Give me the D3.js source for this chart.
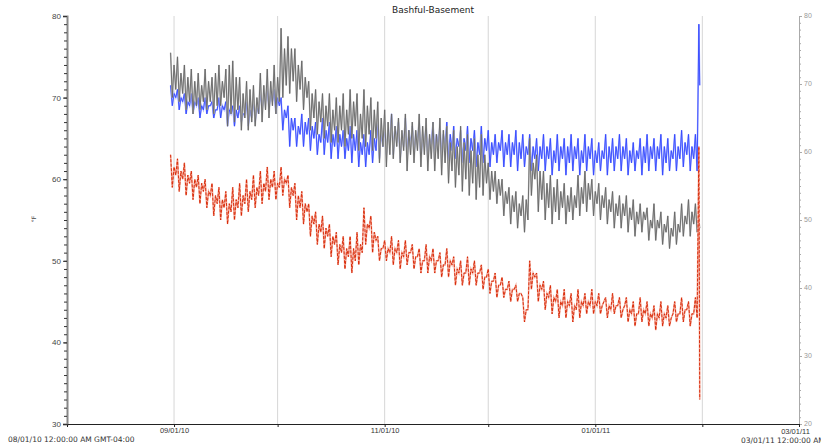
<!DOCTYPE html>
<html>
<head>
<meta charset="utf-8">
<script src="https://cdn.jsdelivr.net/npm/d3@7"></script>
<style>
  body { margin: 0; background: #fff; }
  svg { display: block; font-family: "DejaVu Sans", sans-serif; }
</style>
</head>
<body>
<div id="chart"></div>
<script>
// one high (midnight) and one low (noon) reading per day, starting 08/31/10
let firstDay = Date.UTC(2010, 7, 31);

let grayHi = [75.5, 74, 75, 73, 74, 72.5, 73.5, 72, 73, 71.5,
    73.5, 72, 72.5, 73, 74, 72, 73.5, 74, 74.5, 72.5,
    72.5, 70.5, 72, 71, 71.5, 70, 73, 71.5, 73.5, 72,
    74, 72.5, 78.5, 76, 77.5, 76, 76, 74, 74.5, 72.5,
    72, 70.5, 71, 69.5, 70.5, 69, 70.5, 68.5, 70, 69,
    70.5, 68.5, 71, 69.5, 70.5, 68, 71, 69, 70, 68.5,
    69.5, 67.5, 68.5, 67, 68, 66.5, 67.5, 66, 68, 66,
    67, 66, 68, 66.5, 67.5, 65.5, 67, 65.5, 67.5, 66,
    66.5, 64.5, 66, 64, 66.5, 64.5, 65.5, 63.5, 65, 63,
    65.5, 63, 62, 61, 61, 60, 60, 58.5, 59, 58,
    58.5, 57, 58, 57.5, 65, 62, 63, 61, 61, 59.5,
    60.5, 59, 60, 58.5, 59.5, 58, 59, 58, 60.5, 59,
    61, 59.5, 60, 58.5, 59.5, 58, 59, 57.5, 58.5, 57,
    58, 57, 58, 56.5, 57.5, 56, 57, 56, 56.5, 55,
    57, 55, 56, 54.5, 55.5, 54, 56, 54.5, 57, 55.5,
    57.5, 56, 57];
let grayLo = [70, 71, 69.5, 70.5, 68.5, 69.5, 68, 69, 68.5, 69.5,
    68.5, 69.5, 68, 69, 69, 70, 66.5, 68, 67, 68.5,
    66, 67.5, 66, 67, 66.5, 68, 67, 68.5, 67.5, 69,
    68, 69.5, 70, 71.5, 70.5, 72, 69.5, 71, 68.5, 70,
    66, 67.5, 65.5, 67, 65, 66.5, 64.5, 66, 64.5, 66,
    64, 65.5, 65, 66.5, 63.5, 65, 64, 65.5, 63.5, 65,
    62, 64, 61.5, 63, 62.5, 64, 62, 63.5, 61, 63,
    62, 63.5, 61.5, 63, 61, 62.5, 61, 62.5, 60.5, 62,
    59.5, 61, 59, 60.5, 58.5, 60, 58, 59.5, 57.5, 59,
    58, 59.5, 57.5, 58.5, 57, 58, 55.5, 57, 54.5, 56,
    54, 55.5, 53.5, 55, 58, 60, 56, 57.5, 55, 56.5,
    54.5, 56, 55, 56.5, 54.5, 56, 55, 56.5, 55.5, 57,
    56, 57.5, 55.5, 57, 55, 56.5, 54.5, 56, 54, 55.5,
    54, 55.5, 53.5, 55, 53, 54.5, 53.5, 55, 52.5, 54,
    52.5, 54, 52, 53.5, 51.5, 53, 52, 53.5, 53, 54.5,
    53, 54.5, 53.5];

let blueHi = [71.5, 70.5, 71, 70, 70.5, 69.5, 70.5, 69.5, 70, 69,
    70, 69, 69.5, 68.5, 70, 69, 69.5, 68.5, 69, 68.5,
    69, 68, 69.5, 68.5, 70, 69, 71, 70, 71.5, 70.5,
    71, 70, 70, 68.5, 69, 67.5, 67.5, 66.5, 68, 67,
    67.5, 66.5, 67, 65.5, 67.5, 66, 67, 65.5, 66.5, 65.5,
    66, 65, 66.5, 65.5, 66, 64.5, 65.5, 64.5, 66, 65,
    67.5, 66, 67, 65.5, 68, 66.5, 67, 65.5, 67.5, 66,
    66.5, 65.5, 67, 65.5, 66.5, 65, 67, 65.5, 66.5, 65.5,
    67, 65.5, 66.5, 65, 66, 65, 66.5, 65, 66, 64.5,
    66.5, 65, 66, 64.5, 65.5, 64.5, 66, 64.5, 65.5, 64.5,
    66, 64.5, 65.5, 64, 65.5, 64, 65, 64, 65.5, 64,
    65, 63.5, 65.5, 64, 65, 64, 65.5, 64, 65, 63.5,
    65.5, 64, 65, 63.5, 64.5, 63.5, 65.5, 64, 65, 64,
    65.5, 64, 65, 63.5, 64.5, 63.5, 65, 64, 65.5, 64,
    65, 64, 65.5, 64, 65, 63.5, 65.5, 64, 66, 64.5,
    65.5, 64, 65.5];
let blueLo = [69, 70, 68.5, 69.5, 68, 69, 68, 69, 67.5, 68.5,
    68, 69, 67.5, 68.5, 67.5, 68.5, 66.5, 68, 66.5, 67.5,
    67, 68, 66.5, 67.5, 67, 68, 68.5, 69.5, 68.5, 69.5,
    68, 69, 66, 67.5, 64, 66, 64, 65.5, 64, 65.5,
    63.5, 65, 63, 64.5, 63, 64.5, 62.5, 64, 62.5, 64,
    62.5, 63.5, 62, 63.5, 61.5, 63, 61.5, 63, 62, 63.5,
    62.5, 64, 63, 64.5, 63, 64.5, 62.5, 64, 62.5, 64,
    63, 64.5, 62.5, 64, 62.5, 64, 62.5, 64, 62.5, 64,
    62, 63.5, 62.5, 64, 62, 63.5, 62, 63.5, 61.5, 63,
    62, 63.5, 61.5, 63, 62, 63.5, 61.5, 63, 61.5, 63,
    61, 62.5, 61.5, 63, 61, 62.5, 61, 62.5, 61, 62.5,
    60.5, 62, 61, 62.5, 60.5, 62, 61, 62.5, 60.5, 62,
    61, 62.5, 60.5, 62, 61, 62.5, 60.5, 62, 61, 62.5,
    61, 62.5, 60.5, 62, 61, 62.5, 60.5, 62, 61, 62.5,
    61, 62.5, 60.5, 62, 61, 62.5, 61, 62.5, 61.5, 63,
    61, 62.5, 61];

let redHi = [63, 61.5, 62.5, 61, 62, 60.5, 61, 60, 60.5, 59.5,
    60, 58.5, 59.5, 58, 59, 57.5, 58.5, 57, 59, 57.5,
    59.5, 58, 60, 58.5, 60.5, 59, 61, 59.5, 61.5, 60,
    61, 59.5, 61.5, 60, 60.5, 59, 59.5, 58, 58.5, 57,
    57, 55.5, 56, 54.5, 55.5, 54, 54.5, 53, 53.5, 52,
    53, 51.5, 53, 51.5, 53.5, 52, 56.5, 54.5, 55.5, 53.5,
    53, 51.5, 52.5, 51.5, 53, 51.5, 52.5, 51, 52.5, 51,
    52, 50.5, 51.5, 50, 52, 50.5, 51.5, 50, 51, 49.5,
    51.5, 50, 50.5, 49, 50, 48.5, 50.5, 49, 50, 48.5,
    49.5, 48, 49, 47.5, 48.5, 47, 48, 46.5, 47.5, 46.5,
    47, 46, 45.5, 44, 50, 48.5, 48.5, 47, 47.5, 46,
    47, 45.5, 46.5, 45, 46.5, 45, 46, 44.5, 46.5, 45,
    46, 45, 46.5, 45, 46, 44.5, 45.5, 44.5, 46, 44.5,
    45.5, 44, 45.5, 44, 45, 43.5, 45.5, 44, 45, 43.5,
    44.5, 43.5, 45, 43.5, 44.5, 43, 45, 43.5, 45.5, 44,
    45, 43.5, 45.5];
let redLo = [59, 60.5, 58.5, 60, 58, 59.5, 57.5, 59, 57, 58.5,
    56.5, 58, 55.5, 57, 55, 56.5, 54.5, 56, 55, 56.5,
    55.5, 57, 56, 57.5, 56.5, 58, 57, 58.5, 57.5, 59,
    57.5, 59, 58, 59.5, 56.5, 58, 55, 56.5, 54.5, 56,
    53, 54.5, 52, 53.5, 51.5, 53, 50.5, 52, 49.5, 51,
    49, 50.5, 48.5, 50, 49.5, 51, 52, 54, 51, 52.5,
    50, 51.5, 50, 51, 49.5, 51, 49, 50.5, 49.5, 51,
    49, 50.5, 48.5, 50, 48.5, 50, 48.5, 50, 48, 49.5,
    48, 49.5, 47, 48.5, 47, 48.5, 47, 48.5, 47, 48.5,
    46.5, 48, 46, 47.5, 45.5, 47, 45.5, 46.5, 45, 46.5,
    45, 46, 42.5, 44, 46.5, 48, 45, 46.5, 44, 45.5,
    43.5, 45, 43, 44.5, 43, 44.5, 42.5, 44, 43, 44.5,
    43.5, 44.5, 43.5, 44.5, 43.5, 45, 43, 44, 43.5, 44.5,
    43, 44.5, 42.5, 43.5, 42, 43.5, 42.5, 43.5, 42, 43,
    41.5, 43, 42, 43, 42, 43.5, 42.5, 43.5, 42.5, 44,
    42, 43.5, 43];

// last readings on 01/31/11 (the spike at the end)
let lastDay = Date.UTC(2011, 0, 31);
let grayEnd = [55, 54];
let blueEnd = [79, 71.5];
let redEnd = [64, 33];

let leftTicks = [30, 40, 50, 60, 70, 80];
let rightTicks = [20, 30, 40, 50, 60, 70, 80];
let title = "Bashful-Basement";
let yLabel = "°F";
let startLabel = "08/01/10 12:00:00 AM GMT-04:00";
let endLabel = "03/01/11 12:00:00 AM GMT-04:00";

let width = 821, height = 446;
let margin = {top: 16, right: 22, bottom: 22, left: 67};
let innerW = width - margin.left - margin.right;
let innerH = height - margin.top - margin.bottom;

let svg = d3.select("#chart").append("svg")
    .attr("width", width)
    .attr("height", height);

let g = svg.append("g")
    .attr("transform", `translate(${margin.left}, ${margin.top})`);

let x = d3.scaleUtc()
    .domain([new Date(Date.UTC(2010, 7, 1)), new Date(Date.UTC(2011, 2, 1))])
    .range([0, innerW]);
let y = d3.scaleLinear().domain([30, 80]).range([innerH, 0]);
let yRight = d3.scaleLinear().domain([20, 80]).range([innerH, 0]);

let months = d3.utcMonth.range(new Date(Date.UTC(2010, 8, 1)), new Date(Date.UTC(2011, 2, 2)));

// vertical month grid
g.selectAll(".grid")
    .data(months.slice(0, -1))
    .enter()
    .append("line")
    .attr("x1", d => x(d)).attr("x2", d => x(d))
    .attr("y1", 0).attr("y2", innerH)
    .attr("stroke", "#d6d6d6")
    .attr("stroke-width", 1);

// hi at midnight, lo at noon, then the final readings
function readings(hi, lo, end) {
    let pts = [];
    hi.forEach((v, i) => {
        let day = d3.utcDay.offset(new Date(firstDay), i);
        pts.push([day, v]);
        pts.push([d3.utcHour.offset(day, 12), lo[i]]);
    });
    pts.push([new Date(lastDay), end[0]]);
    pts.push([d3.utcHour.offset(new Date(lastDay), 6), end[1]]);
    return pts;
}

let line = d3.line()
    .x(d => x(d[0]))
    .y(d => y(d[1]));

let series = [
    {hi: blueHi, lo: blueLo, end: blueEnd, light: "#aab4ff", dark: "#3347ff", dash: null},
    {hi: grayHi, lo: grayLo, end: grayEnd, light: "#c4c4c4", dark: "#666666", dash: null},
    {hi: redHi, lo: redLo, end: redEnd, light: "#f4a898", dark: "#d62200", dash: "3,1.5"}
];

series.forEach(s => {
    let pts = readings(s.hi, s.lo, s.end);
    g.append("path")
        .datum(pts)
        .attr("d", line)
        .attr("fill", "none")
        .attr("stroke", s.light)
        .attr("stroke-width", 1.6);
    g.append("path")
        .datum(pts)
        .attr("d", line)
        .attr("fill", "none")
        .attr("stroke", s.dark)
        .attr("stroke-width", 0.9)
        .attr("stroke-dasharray", s.dash);
});

// left axis
let leftAxis = g.append("g")
    .call(d3.axisLeft(y).tickValues(leftTicks).tickSize(4).tickPadding(2));
leftAxis.select(".domain").attr("stroke", "#888").attr("stroke-width", 2);
leftAxis.selectAll("text").attr("font-size", 8).attr("fill", "#444");
leftAxis.selectAll(".tick line").attr("stroke", "#333");
g.append("g")
    .call(d3.axisLeft(y).ticks(50).tickSize(3).tickFormat(""))
    .call(a => a.select(".domain").remove())
    .selectAll("line").attr("stroke", "#333");

// right axis
let rightAxis = g.append("g")
    .attr("transform", `translate(${innerW}, 0)`)
    .call(d3.axisRight(yRight).tickValues(rightTicks).tickSize(3).tickPadding(2));
rightAxis.select(".domain").attr("stroke", "#aaa");
rightAxis.selectAll("text").attr("font-size", 7).attr("fill", "#999").attr("dy", "0.2em");
rightAxis.selectAll(".tick line").attr("stroke", "#aaa");
g.append("g")
    .attr("transform", `translate(${innerW}, 0)`)
    .call(d3.axisRight(yRight).ticks(60).tickSize(2).tickFormat(""))
    .call(a => a.select(".domain").remove())
    .selectAll("line").attr("stroke", "#aaa");

// bottom axis
let bottomAxis = g.append("g")
    .attr("transform", `translate(0, ${innerH})`)
    .call(d3.axisBottom(x).tickValues(months).tickSize(3).tickPadding(1)
        .tickFormat(d => d.getUTCMonth() % 2 === 0 ? d3.utcFormat("%m/%d/%y")(d) : ""));
bottomAxis.select(".domain").attr("stroke", "#222");
bottomAxis.selectAll("text").attr("font-size", 7.5).attr("fill", "#333");
bottomAxis.selectAll(".tick line").attr("stroke", "#222");
bottomAxis.selectAll(".tick:last-of-type text").attr("dx", -4).attr("y", 5);

// range labels
svg.append("text")
    .attr("x", 8).attr("y", 442)
    .attr("font-size", 7.5).attr("fill", "#333")
    .text(startLabel);
svg.append("text")
    .attr("x", 741).attr("y", 443)
    .attr("font-size", 7.5).attr("fill", "#333")
    .text(endLabel);

// title
svg.append("text")
    .attr("x", 433).attr("y", 13)
    .attr("text-anchor", "middle")
    .attr("font-size", 9).attr("fill", "#222")
    .text(title);

// y label
svg.append("text")
    .attr("transform", "translate(36, 219) rotate(-90)")
    .attr("text-anchor", "middle")
    .attr("font-size", 6).attr("fill", "#444")
    .text(yLabel);
</script>
</body>
</html>
